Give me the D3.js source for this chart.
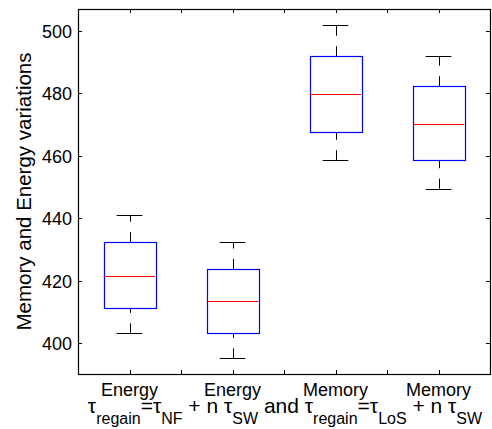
<!DOCTYPE html>
<html>
<head>
<meta charset="utf-8">
<script src="https://cdn.jsdelivr.net/npm/d3@7"></script>
<style>
  body { margin: 0; background: #fff; }
  svg { display: block; font-family: "Liberation Sans", Arial, Helvetica, sans-serif; }
</style>
</head>
<body>
<div id="chart"></div>
<script>
// Box plot data
const categories = ["Energy", "Energy", "Memory", "Memory"];
const whiskerLow = [403.2, 395.2, 458.6, 449.5];
const q1 = [411.4, 403.2, 467.6, 458.6];
const median = [421.7, 413.6, 479.8, 470.3];
const q3 = [432.4, 423.8, 491.9, 482.3];
const whiskerHigh = [441.1, 432.4, 501.9, 491.9];
const yTicks = [400, 420, 440, 460, 480, 500];

const width = 492, height = 429;
const margin = {left: 78, right: 2, top: 9, bottom: 55};
const plotW = width - margin.left - margin.right;
const plotH = height - margin.top - margin.bottom;

const svg = d3.select("#chart").append("svg")
    .attr("width", width)
    .attr("height", height);

const g = svg.append("g")
    .attr("transform", `translate(${margin.left}, ${margin.top})`);

const x = d3.scaleLinear().domain([0.5, 4.5]).range([0, plotW]);
const y = d3.scaleLinear().domain([390.2, 507]).range([plotH, 0]);

const boxes = categories.map((c, i) => ({
    pos: i + 1, label: c,
    lo: whiskerLow[i], q1: q1[i], med: median[i], q3: q3[i], hi: whiskerHigh[i]
}));

// axes frame
g.append("rect")
    .attr("x", 0.5).attr("y", 0.5)
    .attr("width", plotW).attr("height", plotH)
    .attr("fill", "none").attr("stroke", "#000").attr("stroke-width", 1.2);

const tickLen = 4;
const xTickVals = d3.range(1, 4.01, 0.5);

// y ticks left & right (inward)
yTicks.forEach(v => {
    const yy = Math.round(y(v)) + 0.5;
    g.append("line").attr("x1", 0).attr("x2", tickLen).attr("y1", yy).attr("y2", yy)
        .attr("stroke", "#000");
    g.append("line").attr("x1", plotW - tickLen).attr("x2", plotW).attr("y1", yy).attr("y2", yy)
        .attr("stroke", "#000");
    g.append("text").attr("x", -6).attr("y", yy).attr("dy", "0.36em")
        .attr("text-anchor", "end").attr("font-size", 18).text(v);
});

// x ticks top & bottom (inward)
xTickVals.forEach(v => {
    const xx = Math.round(x(v)) + 0.5;
    g.append("line").attr("x1", xx).attr("x2", xx).attr("y1", 0).attr("y2", tickLen)
        .attr("stroke", "#000");
    g.append("line").attr("x1", xx).attr("x2", xx).attr("y1", plotH - tickLen).attr("y2", plotH)
        .attr("stroke", "#000");
});

// category tick labels
g.selectAll("text.cat")
    .data(boxes)
    .join("text")
    .attr("class", "cat")
    .attr("x", d => x(d.pos))
    .attr("y", plotH + 22)
    .attr("text-anchor", "middle")
    .attr("font-size", 18)
    .text(d => d.label);

const bw = x(1.25) - x(1);
const cw = x(1.125) - x(1);

const bx = g.selectAll("g.box").data(boxes).join("g").attr("class", "box");

// whiskers (dashed)
bx.append("line")
    .attr("x1", d => Math.round(x(d.pos)) + 0.5).attr("x2", d => Math.round(x(d.pos)) + 0.5)
    .attr("y1", d => y(d.q3)).attr("y2", d => y(d.hi))
    .attr("stroke", "#000").attr("stroke-dasharray", "10,10.5");
bx.append("line")
    .attr("x1", d => Math.round(x(d.pos)) + 0.5).attr("x2", d => Math.round(x(d.pos)) + 0.5)
    .attr("y1", d => y(d.lo)).attr("y2", d => y(d.q1))
    .attr("stroke", "#000").attr("stroke-dasharray", "10,10.5");

// caps
bx.append("line")
    .attr("x1", d => x(d.pos) - cw).attr("x2", d => x(d.pos) + cw)
    .attr("y1", d => Math.round(y(d.hi)) + 0.5).attr("y2", d => Math.round(y(d.hi)) + 0.5)
    .attr("stroke", "#000");
bx.append("line")
    .attr("x1", d => x(d.pos) - cw).attr("x2", d => x(d.pos) + cw)
    .attr("y1", d => Math.round(y(d.lo)) + 0.5).attr("y2", d => Math.round(y(d.lo)) + 0.5)
    .attr("stroke", "#000");

// box
bx.append("rect")
    .attr("x", d => Math.round(x(d.pos) - bw) + 0.5)
    .attr("y", d => Math.round(y(d.q3)) + 0.5)
    .attr("width", Math.round(2 * bw))
    .attr("height", d => Math.round(y(d.q1)) - Math.round(y(d.q3)))
    .attr("fill", "none").attr("stroke", "#0000ff").attr("stroke-width", 1.2);

// median
bx.append("line")
    .attr("x1", d => x(d.pos) - bw).attr("x2", d => x(d.pos) + bw)
    .attr("y1", d => Math.round(y(d.med)) + 0.5).attr("y2", d => Math.round(y(d.med)) + 0.5)
    .attr("stroke", "#ff0000");

// y label
svg.append("text")
    .attr("transform", `translate(31, ${margin.top + plotH / 2}) rotate(-90)`)
    .attr("text-anchor", "middle")
    .attr("font-size", 20.5)
    .text("Memory and Energy variations");

// x label with subscripts
const xl = svg.append("text")
    .attr("x", margin.left + plotW / 2 + 1)
    .attr("y", 413)
    .attr("text-anchor", "middle")
    .attr("font-size", 21);
const parts = [
    ["τ", 0], ["regain", 1], ["=τ", 0], ["NF", 1], [" + n τ", 0], ["SW", 1],
    [" and τ", 0], ["regain", 1], ["=τ", 0], ["LoS", 1], [" + n τ", 0], ["SW", 1]
];
let prevSub = 0;
parts.forEach(([t, sub]) => {
    const ts = xl.append("tspan").text(t).attr("font-size", sub ? 16 : 21)
        .style("white-space", "pre");
    if (sub !== prevSub) ts.attr("dy", sub ? 11 : -11);
    prevSub = sub;
});
</script>
</body>
</html>
